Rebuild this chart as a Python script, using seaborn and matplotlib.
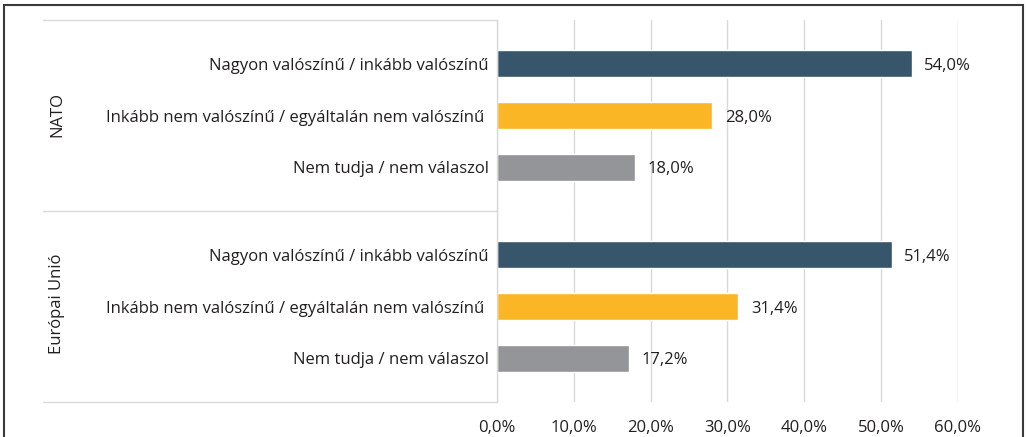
import numpy as np
import pandas as pd
import matplotlib.pyplot as plt
import seaborn as sns
from matplotlib.lines import Line2D
from matplotlib.patches import Rectangle

# data
groups = ["NATO", "Európai Unió"]
answers = ["Nagyon valószínű / inkább valószínű",
           "Inkább nem valószínű / egyáltalán nem valószínű ",
           "Nem tudja / nem válaszol"]
nato_values = [54.0, 28.0, 18.0]
eu_values = [51.4, 31.4, 17.2]
x_ticks = [0, 10, 20, 30, 40, 50, 60]

colors = ["#37566b", "#fbb625", "#939598"]
text_col = "#231f20"
grid_col = "#d9d9d9"
fs = 12

sns.set_theme(style="white")
plt.rcParams["font.family"] = ["Open Sans", "DejaVu Sans"]

df = pd.DataFrame({
    "group": np.repeat(groups, len(answers)),
    "answer": answers * len(groups),
    "value": nato_values + eu_values,
})

W, H = 1027, 437
fig = plt.figure(figsize=(W / 100, H / 100), dpi=100)

def px_axes(left, top, right, bottom):
    return fig.add_axes([left / W, 1 - bottom / H, (right - left) / W, (bottom - top) / H])

ax_top = px_axes(497, 20, 958, 211)
ax_bot = px_axes(497, 211, 958, 402)

for ax, grp in zip([ax_top, ax_bot], groups):
    sub = df[df["group"] == grp]
    sns.barplot(data=sub, x="value", y="answer", hue="answer", palette=colors,
                orient="h", width=0.52, legend=False, saturation=1, ax=ax)
    ax.set_xlim(0, 60)
    ax.set_ylim(2.85, -0.85)
    ax.set_xticks(x_ticks)
    ax.grid(axis="x", color=grid_col, lw=1)
    ax.set_axisbelow(True)
    for s in ["top", "right", "bottom"]:
        ax.spines[s].set_visible(False)
    ax.spines["left"].set_color(grid_col)
    ax.spines["left"].set_linewidth(1)
    ax.tick_params(axis="y", length=0, pad=6, labelsize=fs, labelcolor=text_col)
    ax.tick_params(axis="x", length=0)
    ax.set_xlabel("")
    ax.set_ylabel("")
    for cont in ax.containers:
        txts = ax.bar_label(cont, labels=[f"{v:.1f}%".replace(".", ",") for v in cont.datavalues],
                            padding=9, fontsize=fs, color=text_col)
        for t in txts:
            t.set_va("center_baseline")

ax_top.set_xticklabels([])
ax_bot.set_xticklabels([f"{t:.1f}%".replace(".", ",") for t in x_ticks])
ax_bot.tick_params(axis="x", pad=13, labelsize=fs, labelcolor=text_col)

# group separators of the category axis
for y in [20, 211, 402]:
    fig.add_artist(Line2D([43 / W, 497 / W], [1 - y / H, 1 - y / H], color=grid_col, lw=1))
fig.text(57 / W, 1 - 115 / H, "NATO", rotation=90, ha="center", va="center",
         fontsize=fs, color=text_col)
fig.text(57 / W, 1 - 304 / H, "Európai Unió", rotation=90, ha="center", va="center",
         fontsize=fs, color=text_col)

# outer frame
fig.add_artist(Rectangle((4 / W, -0.05), 1019 / W, 1.05 - 5 / H, fill=False,
                         edgecolor="#3a3a3a", lw=1.5, transform=fig.transFigure))

fig.savefig("out.png", dpi=100)
